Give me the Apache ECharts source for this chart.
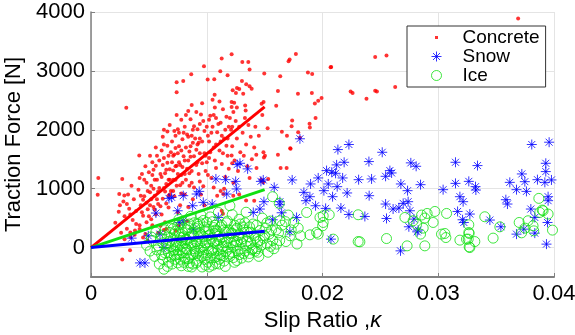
<!DOCTYPE html>
<html lang="en">
<head>
    <meta charset="UTF-8">
    <title>Traction Force vs Slip Ratio</title>
    <style>
        html, body { margin: 0; padding: 0; background: #fff; }
        #main { width: 575px; height: 335px; }
    </style>
    <script src="https://cdn.jsdelivr.net/npm/echarts@6/dist/echarts.min.js"></script>
</head>
<body>
<div id="main"></div>
<script type="text/javascript">
    // measured points [slip ratio, traction force N]
    var concretePoints = [
        [0.00063,1182],[0.00058,898],[0.0027,1165],[0.00244,909],[0.00288,886],[0.0027,-204],[0.00337,-44],[0.00377,216],
        [0.00305,2375],[0.00417,1562],[0.0063,2000],[0.0074,2806],[0.0074,2636],[0.00797,2828],[0.00866,2942],[0.00976,3078],
        [0.01129,3209],[0.01215,3283],[0.01008,2852],[0.01065,2857],[0.01117,2993],[0.0118,2925],[0.01068,2596],[0.01307,3152],
        [0.01359,3152],[0.0137,3022],[0.01707,3164],[0.01716,3192],[0.0177,3288],[0.0207,3061],[0.01497,2954],[0.01635,2908],
        [0.01874,2971],[0.01911,2947],[0.01304,2828],[0.01341,2772],[0.0137,2738],[0.01388,2698],[0.01224,2670],[0.01261,2709],
        [0.01281,2692],[0.01252,2624],[0.01315,2613],[0.01615,2658],[0.01788,2613],[0.01908,2624],[0.02243,2652],[0.0226,2624],
        [0.01992,2538],[0.01963,2494],[0.01934,2448],[0.016,2409],[0.01332,2414],[0.01336,2329],[0.01215,2470],[0.01237,2460],
        [0.01215,2385],[0.01491,2470],[0.01474,2443],[0.01738,2158],[0.01733,2061],[0.01888,2102],[0.01891,2039],[0.0194,2198],
        [0.01526,2027],[0.02455,3237],[0.02553,3261],[0.02075,3066],[0.0238,2528],[0.02455,2664],[0.0247,2652],[0.01494,1528],
        [0.01503,1557],[0.01615,1574],[0.01721,1687],[0.01649,1966],[0.01693,1898],[0.01428,1574],[0.01638,1353],[0.0169,1353],
        [0.0369,3891],[0.02628,2726],[0.0179,1959],[0.01805,1864],[0.01724,1676],[0.01215,1562],[0.0122,1431],[0.0141,796],
        [0.01488,1107],[0.01531,1165],[0.01143,909],[0.01229,881],[0.0114,574],[0.01129,625],
        [0.0045,170],[0.0049,114],[0.006,369],[0.0065,313],[0.0073,284],[0.0039,398],[0.0034,256],[0.0042,313],
        [0.0021,420],[0.0024,610],[0.0026,250],[0.0028,780],[0.0029,140],[0.0025,720],[0.0029,530],
        [0.0031,320],[0.0032,900],[0.0033,660],[0.0034,180],[0.0035,1050],[0.0036,470],[0.0037,820],[0.0038,290],[0.0039,620],[0.0034,560],[0.0031,740],
        [0.0041,980],[0.0042,380],[0.0043,720],[0.0044,1250],[0.0045,540],[0.0046,870],[0.0047,230],[0.0048,1100],[0.0049,650],
        [0.0042,1180],[0.0045,810],[0.0048,430],[0.0044,600],[0.0047,1380],[0.0049,960],
        [0.0051,720],[0.0052,1050],[0.0053,380],[0.0054,1320],[0.0055,880],[0.0056,560],[0.0057,1150],[0.0058,250],[0.0059,1480],
        [0.0051,940],[0.0053,1230],[0.0055,640],[0.0057,820],[0.0059,1010],[0.0052,480],[0.0056,1390],[0.0058,740],[0.0054,1000],[0.0056,1700],[0.0051,1560],
        [0.0061,1200],[0.0062,830],[0.0063,1520],[0.0064,430],[0.0065,1080],[0.0066,1730],[0.0067,680],[0.0068,1330],[0.0069,960],
        [0.0061,560],[0.0062,1880],[0.0063,1010],[0.0064,1260],[0.0065,750],[0.0066,1440],[0.0067,1150],[0.0068,900],[0.0069,1620],
        [0.0063,300],[0.0066,1970],[0.0068,2080],[0.0061,1650],
        [0.0071,1310],[0.0072,870],[0.0073,1690],[0.0074,1050],[0.0075,2010],[0.0076,1450],[0.0077,720],[0.0078,1230],[0.0079,1840],
        [0.0071,1560],[0.0072,1980],[0.0073,1150],[0.0074,1390],[0.0075,600],[0.0076,1720],[0.0077,1060],[0.0078,2170],[0.0079,1370],
        [0.0071,960],[0.0074,2250],[0.0076,380],[0.0078,920],
        [0.0081,1480],[0.0082,1150],[0.0083,1920],[0.0084,690],[0.0085,1630],[0.0086,2180],[0.0087,1300],[0.0088,1780],[0.0089,1020],
        [0.0081,2050],[0.0082,1700],[0.0083,1340],[0.0084,2320],[0.0085,1050],[0.0086,1540],[0.0087,1900],[0.0088,820],[0.0089,2060],
        [0.0083,450],[0.0087,2420],[0.0081,900],[0.0085,1260],
        [0.0091,1660],[0.0092,2010],[0.0093,1250],[0.0094,1850],[0.0095,2260],[0.0096,1430],[0.0097,1040],[0.0098,1980],[0.0099,1560],
        [0.0091,2300],[0.0093,1780],[0.0095,900],[0.0097,2150],[0.0099,1300],[0.0092,1450],[0.0096,2450],[0.0098,720],[0.0094,1120],
        [0.0101,1900],[0.0102,1520],[0.0103,2240],[0.0104,1180],[0.0105,2050],[0.0106,1700],[0.0107,2380],[0.0108,1350],[0.0109,1960],
        [0.0101,1230],[0.0103,1620],[0.0105,2510],[0.0107,1480],[0.0109,880],[0.0102,2170],[0.0106,1020],[0.0108,2200],
        [0.0111,1650],[0.0112,2120],[0.0113,1420],[0.0114,2350],[0.0115,1850],[0.0116,1200],[0.0117,2220],[0.0118,1560],[0.0119,2050],
        [0.0111,2480],[0.0113,1900],[0.0115,1000],[0.0117,1730],[0.0119,1340],[0.0112,960],
        [0.0121,2000],[0.0122,1720],[0.0123,2300],[0.0124,1480],[0.0125,2150],[0.0126,1850],[0.0127,1300],[0.0128,2050],[0.0129,1620],
        [0.0123,1100],[0.0126,2380],[0.0128,900],
        [0.0131,1950],[0.0132,1560],[0.0133,2200],[0.0134,1750],[0.0135,1380],[0.0136,2080],[0.0137,1180],[0.0138,1880],[0.0139,1500],[0.0134,800],
        [0.0141,1700],[0.0142,2050],[0.0143,1350],[0.0145,1900],[0.0147,1150],[0.0148,2250],[0.0149,1620],
        [0.0043,880],[0.0046,1150],[0.0048,760],[0.005,1280],[0.005,530],[0.0052,820],[0.0053,1450],[0.0054,690],[0.0055,1150],
        [0.0057,1560],[0.0058,950],[0.006,1250],[0.006,700],[0.0062,1400],[0.0063,1750],[0.0064,950],[0.0065,1320],[0.0067,1560],
        [0.0067,880],[0.0068,1150],[0.007,1450],[0.007,1800],[0.0071,1150],[0.0072,1580],[0.0073,1380],[0.0073,1900],[0.0075,1250],
        [0.0075,1600],[0.0076,1950],[0.0077,1400],[0.0078,1650],[0.0079,1100],[0.008,1550],[0.008,1950],[0.0081,1250],[0.0082,2250],
        [0.0084,1480],[0.0084,1880],[0.0086,1720],[0.0087,1100],[0.0088,2000],[0.0089,1550],[0.009,1850],[0.0091,1400],[0.0092,1750],
        [0.0094,1600],[0.0094,2100],[0.0096,1800],[0.0098,1600],[0.01,2050],[0.01,1450],[0.0102,1800],[0.0104,1950],[0.0106,2250],
        [0.0108,1750],[0.011,2100],[0.0112,1800],[0.0114,1600],[0.0116,2000],[0.0118,1850],[0.012,2200],[0.0122,2050]
    ];

    var snowPoints = [
        [0.01079,1165],[0.01163,1153],[0.0125,1124],[0.01172,909],[0.01258,995],[0.00935,954],[0.00913,909],[0.00797,881],
        [0.00697,852],[0.00674,835],[0.0097,767],[0.01047,739],[0.00878,710],[0.00749,625],[0.00561,586],[0.00763,426],
        [0.00797,455],[0.011,511],[0.00884,313],[0.00596,228],[0.00495,199],[0.00351,160],[0.0063,0],[0.00423,-261],
        [0.00466,-261],[0.01263,1409],[0.01805,1847],[0.01287,1431],[0.01353,1336],[0.01488,1148],[0.01468,1124],[0.01583,1022],
        [0.01738,1148],[0.02133,1664],[0.02228,1750],[0.02187,1448],[0.02122,1404],[0.02035,1307],[0.0208,1278],[0.02113,1261],
        [0.01963,1182],[0.01897,1080],[0.0205,1080],[0.02127,1034],[0.02012,966],[0.01839,937],[0.01891,864],[0.02087,864],
        [0.02213,927],[0.01857,796],[0.0194,710],[0.02027,665],[0.01632,779],[0.01632,727],[0.01494,779],[0.02159,671],
        [0.02228,562],[0.01402,596],[0.01459,654],[0.01776,511],[0.01647,591],[0.01569,472],[0.01718,267],[0.02073,143],
        [0.02312,1153],[0.02516,1618],[0.02401,1460],[0.02763,1438],[0.02809,1380],[0.02582,1307],[0.02597,1267],[0.02545,1210],
        [0.02424,1165],[0.02174,1182],[0.02677,1080],[0.02847,1068],[0.02735,966],[0.02403,881],[0.03042,983],[0.02545,739],
        [0.0261,654],[0.0266,671],[0.02697,750],[0.0274,779],[0.02366,528],[0.02553,494],[0.02755,625],[0.0279,483],
        [0.02746,353],[0.02818,267],[0.02826,296],[0.02674,-56],
        [0.03808,1750],[0.03958,1789],[0.03149,1448],[0.03339,1392],[0.03929,1431],[0.03929,1290],[0.03722,1250],[0.03748,1119],
        [0.03618,1107],[0.03857,1153],[0.03921,1107],[0.03978,1148],[0.03676,983],[0.03762,954],[0.03149,1090],[0.03264,1124],
        [0.03322,1034],[0.03325,977],[0.03187,864],[0.03215,779],[0.03584,813],[0.03598,739],[0.03949,864],[0.03949,796],
        [0.038,654],[0.03167,613],[0.03273,569],[0.0321,472],[0.03221,426],[0.03834,511],[0.03944,426],[0.03446,467],
        [0.03541,353],[0.03739,313],[0.03676,228],[0.03834,245],[0.03935,58]
    ];

    var icePoints = [
        [0.0048,40],[0.0051,-60],[0.0053,120],[0.0055,-150],[0.0056,260],[0.0058,30],[0.0059,-280],[0.0052,180],[0.0057,-40],[0.006,150],
        [0.0061,-120],[0.0062,80],[0.0063,-368],[0.0062,-198],[0.0064,300],[0.0065,-20],[0.0066,180],[0.0067,-250],[0.0068,256],[0.0069,20],
        [0.0064,-90],[0.0066,-320],[0.0068,110],[0.0061,210],[0.0069,-150],
        [0.0071,-60],[0.0072,230],[0.0073,-200],[0.0074,90],[0.0075,380],[0.0076,-120],[0.0077,170],[0.0078,-310],[0.0079,20],
        [0.0071,320],[0.0073,50],[0.0075,-260],[0.0077,-40],[0.0079,260],[0.0072,-140],[0.0076,480],[0.0078,120],
        [0.0081,-180],[0.0082,140],[0.0083,-40],[0.0084,340],[0.0085,-260],[0.0086,60],[0.0087,250],[0.0088,-120],[0.0089,420],
        [0.0081,80],[0.0083,300],[0.0085,170],[0.0087,-330],[0.0089,-20],[0.0082,-90],[0.0086,530],[0.0088,210],[0.0084,-190],
        [0.0091,100],[0.0092,-230],[0.0093,360],[0.0094,-50],[0.0095,220],[0.0096,-150],[0.0097,460],[0.0098,30],[0.0099,-300],
        [0.0091,-100],[0.0093,180],[0.0095,550],[0.0097,-80],[0.0099,280],[0.0092,400],[0.0096,120],[0.0098,-200],[0.0094,250],
        [0.0101,-20],[0.0102,310],[0.0103,-180],[0.0104,150],[0.0105,440],[0.0106,-90],[0.0107,240],[0.0108,-270],[0.0109,60],
        [0.0101,200],[0.0103,520],[0.0105,-40],[0.0107,380],[0.0109,-150],[0.0102,-330],[0.0106,90],[0.0108,300],
        [0.0111,130],[0.0112,-120],[0.0113,380],[0.0114,20],[0.0115,-230],[0.0116,260],[0.0117,-60],[0.0118,450],[0.0119,170],
        [0.011,596],[0.0111,-280],[0.0113,-20],[0.0115,300],[0.0117,90],[0.0119,-110],
        [0.012,710],[0.0121,250],[0.0122,-80],[0.0123,-170],[0.0124,380],[0.0125,40],[0.0126,-220],[0.0127,200],[0.0128,480],
        [0.0129,-30],[0.0122,560],[0.0124,120],[0.0126,330],[0.0128,-120],
        [0.0131,150],[0.0132,-100],[0.0133,420],[0.0134,30],[0.0135,260],[0.0136,-160],[0.0137,350],[0.0138,80],[0.0139,-40],
        [0.0132,300],[0.0134,600],[0.0136,180],
        [0.0141,200],[0.0142,-60],[0.0143,380],[0.0144,100],[0.0145,-150],[0.0146,290],[0.0147,40],[0.0148,500],[0.0149,160],[0.0143,-20],
        [0.0151,330],[0.0152,60],[0.0153,-80],[0.0154,230],[0.0155,450],[0.0157,120],[0.0158,-20],[0.0156,300],
        [0.0065,70],[0.0067,-90],[0.0069,330],[0.007,-280],[0.0071,140],[0.0072,-40],[0.0073,280],[0.0074,-120],[0.0075,20],
        [0.0076,250],[0.0077,-200],[0.0078,390],[0.0079,-90],[0.008,180],[0.008,-250],[0.0081,320],[0.0082,-20],[0.0083,130],
        [0.0084,-320],[0.0085,400],[0.0086,-130],[0.0087,80],[0.0088,-280],[0.0089,190],[0.009,-60],[0.009,330],[0.0091,-260],
        [0.0092,60],[0.0093,-140],[0.0094,420],[0.0095,-10],[0.0096,-330],[0.0097,180],[0.0098,350],[0.0099,80],[0.01,-120],
        [0.01,430],[0.0101,-250],[0.0102,90],[0.0103,220],[0.0104,-60],[0.0105,-300],[0.0106,340],[0.0107,-170],[0.0108,120],
        [0.0109,280],[0.011,-50],[0.011,190],[0.0111,-200],[0.0112,350],[0.0113,170],[0.0114,-140],[0.0115,80],[0.0116,-320],
        [0.0117,420],[0.0118,-10],[0.0119,300],[0.012,-150],[0.0121,80],[0.0122,240],[0.0123,20],[0.0124,-250],[0.0125,300],
        [0.0126,100],[0.0127,-60],[0.0128,220],[0.0129,400],[0.013,-180],[0.013,90],[0.0131,350],[0.0133,-60],[0.0135,110],
        [0.0137,-100],[0.0138,260],[0.014,-20],[0.014,400],[0.0142,160],[0.0144,-80],[0.0146,120],[0.015,200],[0.0152,420],
        [0.0155,20],[0.016,300],[0.0163,120],
        [0.01569,864],[0.01626,750],[0.01604,58],[0.01632,455],[0.0162,250],[0.0165,380],[0.01684,102],[0.01704,552],[0.0172,200],
        [0.0175,420],[0.0179,330],[0.01811,199],[0.0178,60],[0.01891,216],[0.01863,596],[0.01963,228],[0.01978,511],[0.01949,256],
        [0.02001,370],[0.02006,540],[0.02006,426],[0.02058,557],[0.02093,143],[0.02308,557],[0.02308,102],[0.02323,97],[0.02553,153],
        [0.0173,300],[0.0168,440],
        [0.02712,511],[0.02783,455],[0.02856,552],[0.02904,579],[0.02971,613],[0.02884,501],[0.02813,398],[0.0287,330],[0.02847,228],
        [0.02956,426],[0.02731,29],[0.02884,29],[0.03028,228],[0.03066,170],[0.03057,239],[0.03072,579],[0.03187,126],[0.03259,143],
        [0.03316,102],[0.03267,239],[0.03273,0],[0.03402,523],[0.03474,160],[0.03264,387],[0.03264,256],[0.03244,143],[0.03267,12],
        [0.03532,352],[0.03699,426],[0.03776,455],[0.03819,370],[0.03825,284],[0.03906,625],[0.03949,569],[0.03877,596],[0.03987,296],
        [0.03869,835],[0.03898,637],[0.0375,330],[0.0372,250]
    ];

    // fitted lines through origin
    var concreteFit = [[0, 0], [0.015, 2390]];
    var snowFit = [[0, 0], [0.015, 985]];
    var iceFit = [[0, 0], [0.015, 275]];

    var xTicks = [0, 0.01, 0.02, 0.03, 0.04];
    var yTicks = [0, 1000, 2000, 3000, 4000];

    var FONT = 'Liberation Sans, Arial, Helvetica, sans-serif';
    var asterisk = 'path://M5,0L5,10M0,5L10,5M1.5,1.5L8.5,8.5M1.5,8.5L8.5,1.5';
    var dotIcon = 'path://M0,0M10,10M3.5,3.5L6.5,3.5L6.5,6.5L3.5,6.5Z';

    var chart = echarts.init(document.getElementById('main'));

    var option = {
        animation: false,
        backgroundColor: '#fff',
        grid: { left: 91, right: 21, top: 12, bottom: 58, containLabel: false, outerBoundsMode: 'none' },
        legend: {
            orient: 'vertical',
            left: 407,
            top: 26,
            padding: [2, 6, 2, 24],
            itemGap: 0,
            itemWidth: 10,
            itemHeight: 10,
            backgroundColor: '#fff',
            borderColor: '#333',
            borderWidth: 1,
            borderRadius: 0,
            textStyle: { fontFamily: FONT, fontSize: 19, color: '#000', lineHeight: 19, padding: [0, 0, 0, 16] },
            data: [
                { name: 'Concrete', icon: dotIcon, itemStyle: { borderWidth: 0 } },
                { name: 'Snow', icon: asterisk, itemStyle: { color: 'transparent', borderColor: '#0000ff', borderWidth: 1 } },
                { name: 'Ice', icon: 'circle', itemStyle: { color: 'transparent', borderColor: '#10e010', borderWidth: 1 } }
            ]
        },
        xAxis: {
            type: 'value',
            min: 0,
            max: 0.04,
            interval: 0.01,
            name: 'Slip Ratio ,{k|κ}',
            nameLocation: 'middle',
            nameGap: 26,
            nameTextStyle: {
                fontFamily: FONT, fontSize: 22, color: '#000',
                rich: { k: { fontFamily: FONT, fontSize: 22, fontStyle: 'italic', color: '#000' } }
            },
            axisLine: { onZero: false, lineStyle: { color: '#808080', width: 2 } },
            axisTick: { inside: true, length: 4, lineStyle: { color: '#808080' } },
            axisLabel: {
                fontFamily: FONT, fontSize: 22, color: '#000', margin: 6,
                formatter: function (v) { return xTicks.indexOf(v) === 0 ? '0' : v.toFixed(2); }
            },
            splitLine: { show: true, lineStyle: { color: '#e4e4e4', width: 1 } }
        },
        yAxis: {
            type: 'value',
            min: -500,
            max: 4000,
            name: 'Traction Force [N]',
            nameLocation: 'middle',
            nameGap: 55,
            nameTextStyle: { fontFamily: FONT, fontSize: 22, color: '#000' },
            axisLine: { show: true, onZero: false, lineStyle: { color: '#808080', width: 1.5 } },
            axisTick: { show: true, inside: true, length: 4, lineStyle: { color: '#808080' } },
            axisLabel: {
                fontFamily: FONT, fontSize: 22, color: '#000', margin: 6, showMinLabel: false,
                formatter: function (v) { return yTicks.indexOf(v) >= 0 ? String(v) : ''; }
            },
            splitLine: { show: true, lineStyle: { color: '#e4e4e4', width: 1 } }
        },
        series: [
            {
                name: 'Concrete', type: 'scatter', data: concretePoints,
                symbol: 'circle', symbolSize: 4,
                itemStyle: { color: '#ff0000' }
            },
            {
                name: 'Snow', type: 'scatter', data: snowPoints,
                symbol: asterisk, symbolSize: 10,
                itemStyle: { color: 'transparent', borderColor: '#0000ff', borderWidth: 1 }
            },
            {
                name: 'Ice', type: 'scatter', data: icePoints,
                symbol: 'circle', symbolSize: 10,
                itemStyle: { color: 'transparent', borderColor: '#10e010', borderWidth: 1 }
            },
            {
                name: 'concreteFit', type: 'line', data: concreteFit, showSymbol: false, symbol: 'none',
                lineStyle: { color: '#ff0000', width: 3 }, z: 5
            },
            {
                name: 'snowFit', type: 'line', data: snowFit, showSymbol: false, symbol: 'none',
                lineStyle: { color: '#10e010', width: 3 }, z: 5
            },
            {
                name: 'iceFit', type: 'line', data: iceFit, showSymbol: false, symbol: 'none',
                lineStyle: { color: '#0000ff', width: 3 }, z: 5
            }
        ]
    };

    chart.setOption(option);
</script>
</body>
</html>
